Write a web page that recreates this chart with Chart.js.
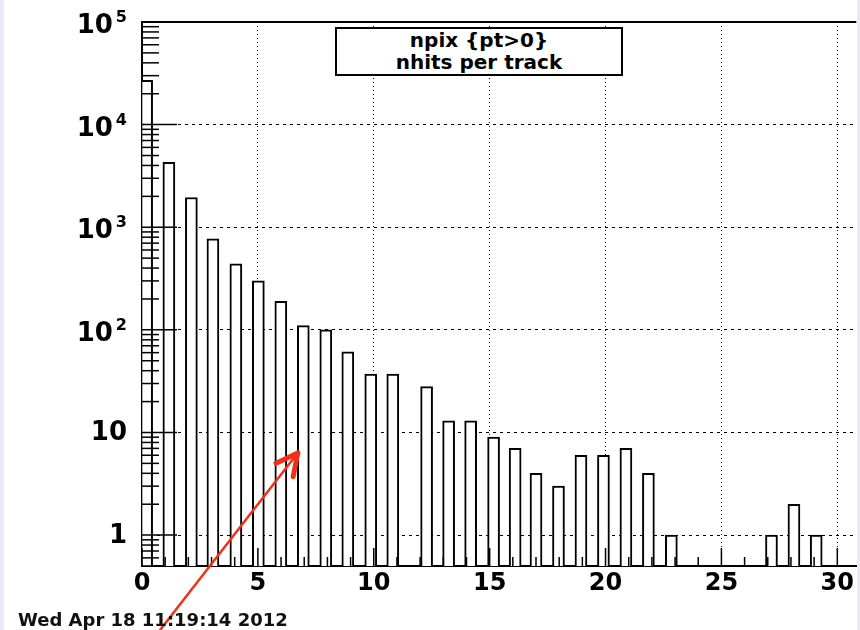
<!DOCTYPE html>
<html>
<head>
<meta charset="utf-8">
<script src="https://cdn.jsdelivr.net/npm/chart.js@4.4.1/dist/chart.umd.min.js"></script>
<style>
  html, body { margin: 0; padding: 0; }
  body { width: 860px; height: 630px; background: #ede7fb; position: relative; overflow: hidden; }
  #sheet { position: absolute; left: 4px; top: 0; width: 853px; height: 630px; background: #fff; }
  #wrap { position: absolute; left: 0; top: 0; width: 853px; height: 630px; }
  #statbox {
    position: absolute; left: 331px; top: 27px; width: 288px; height: 49px;
    box-sizing: border-box; border: 2px solid #000; background: #fff;
    font-family: "DejaVu Sans", sans-serif; font-weight: bold; font-size: 20px;
    line-height: 22px; text-align: center; padding-top: 0px; color: #000;
  }
  #stamp {
    position: absolute; left: 14px; top: 609px;
    font-family: "DejaVu Sans", sans-serif; font-weight: bold; font-size: 18px; color: #111;
  }
</style>
</head>
<body>
<div id="sheet">
  <div id="wrap"><canvas id="npix-chart"></canvas></div>
  <div id="statbox">npix {pt&gt;0}<br>nhits per track</div>
  <div id="stamp">Wed Apr 18 11:19:14 2012</div>
</div>
<script>
// bar positions (x units) and counts
const binX = [0.2, 1.16, 2.13, 3.06, 4.05, 5.02, 5.99, 6.96, 7.93, 8.88, 9.87, 10.82,
              12.28, 13.23, 14.18, 15.17, 16.1, 17.0, 17.97, 18.94, 19.91, 20.88, 21.85, 22.84,
              27.16, 28.13, 29.09];
const counts = [27000, 4300, 1950, 770, 440, 300, 190, 110, 100, 61, 37, 37,
                28, 13, 13, 9, 7, 4, 3, 6, 6, 7, 4, 1,
                1, 2, 1];

const xTicks = [0,1,2,3,4,5,6,7,8,9,10,11,12,13,14,15,16,17,18,19,20,21,22,23,24,25,26,27,28,29,30];
const yDecades = [1, 10, 100, 1000, 10000, 100000];
const yLabels = [['1', ''], ['10', ''], ['10', '2'], ['10', '3'], ['10', '4'], ['10', '5']];

// red arrow drawn on the print: [x, y] in data units
const arrowTail = [0.78, 0.119];
const arrowTip = [6.72, 6.3];

const FONT = '"DejaVu Sans", sans-serif';

// ROOT style: ticks inside the frame, exponent labels, top frame line, arrow
const rootAxes = {
    id: 'rootAxes',
    afterDraw(chart) {
        const { ctx, chartArea: a, scales: { x, y } } = chart;
        ctx.save();
        ctx.strokeStyle = '#000';

        // top frame
        ctx.lineWidth = 2;
        ctx.beginPath();
        ctx.moveTo(a.left, a.top);
        ctx.lineTo(a.right, a.top);
        ctx.stroke();

        // x ticks pointing up
        ctx.lineWidth = 1.5;
        xTicks.forEach(v => {
            const px = x.getPixelForValue(v);
            const len = v % 5 === 0 ? 18 : 9;
            ctx.beginPath();
            ctx.moveTo(px, a.bottom);
            ctx.lineTo(px, a.bottom - len);
            ctx.stroke();
        });

        // log ticks pointing right
        for (let d = -1; d <= 4; d++) {
            for (let k = 1; k <= 9; k++) {
                const v = k * Math.pow(10, d);
                if (v < y.min || v > y.max) continue;
                const py = y.getPixelForValue(v);
                const len = k === 1 ? 35 : 17;
                ctx.beginPath();
                ctx.moveTo(a.left, py);
                ctx.lineTo(a.left + len, py);
                ctx.stroke();
            }
        }

        // y labels with exponents
        ctx.fillStyle = '#000';
        ctx.textAlign = 'right';
        ctx.textBaseline = 'alphabetic';
        const right = a.left - 15;
        yDecades.forEach((v, i) => {
            const py = y.getPixelForValue(v);
            const [base, exp] = yLabels[i];
            if (exp) {
                ctx.font = 'bold 16px ' + FONT;
                ctx.fillText(exp, right, py);
                const ew = ctx.measureText(exp).width;
                ctx.font = 'bold 26px ' + FONT;
                ctx.fillText(base, right - ew - 3, py + 11);
            } else {
                ctx.font = 'bold 26px ' + FONT;
                ctx.fillText(base, right, py + 8);
            }
        });

        // arrow
        const x0 = x.getPixelForValue(arrowTail[0]), y0 = y.getPixelForValue(arrowTail[1]);
        const x1 = x.getPixelForValue(arrowTip[0]), y1 = y.getPixelForValue(arrowTip[1]);
        ctx.strokeStyle = '#f03018';
        ctx.lineCap = 'round';
        ctx.lineWidth = 2.5;
        ctx.beginPath();
        ctx.moveTo(x0, y0);
        ctx.lineTo(x1, y1);
        ctx.stroke();
        const ang = Math.atan2(y0 - y1, x0 - x1);
        ctx.lineWidth = 5;
        [-0.47, 0.47].forEach(da => {
            ctx.beginPath();
            ctx.moveTo(x1, y1);
            ctx.lineTo(x1 + 24 * Math.cos(ang + da), y1 + 24 * Math.sin(ang + da));
            ctx.stroke();
        });
        ctx.restore();
    }
};

new Chart(document.getElementById('npix-chart'), {
    type: 'bar',
    data: {
        datasets: [{
            data: binX.map((v, i) => ({ x: v, y: counts[i] })),
            backgroundColor: '#fff',
            borderColor: '#000',
            borderWidth: 2,
            barThickness: 12,
            borderSkipped: 'start',
            clip: 0
        }]
    },
    options: {
        animation: false,
        responsive: true,
        maintainAspectRatio: false,
        layout: { padding: { top: 22, right: 0, bottom: 0, left: 0 } },
        plugins: { legend: { display: false }, tooltip: { enabled: false } },
        scales: {
            x: {
                type: 'linear',
                offset: false,
                min: 0,
                max: 30.82,
                z: 1,
                afterBuildTicks: s => { s.ticks = xTicks.map(v => ({ value: v })); },
                afterFit: s => { s.height = 64; },
                ticks: {
                    autoSkip: false,
                    maxRotation: 0,
                    padding: 3,
                    color: '#000',
                    font: { family: FONT, weight: 'bold', size: 24 },
                    callback: v => (v % 5 === 0 ? String(v) : '')
                },
                grid: {
                    offset: false,
                    drawTicks: false,
                    lineWidth: 1,
                    color: c => (c.tick && c.tick.value % 5 === 0 ? '#000' : 'rgba(0,0,0,0)')
                },
                border: { display: true, color: '#000', width: 2, dash: [1, 3] }
            },
            y: {
                type: 'logarithmic',
                min: 0.5,
                max: 100000,
                z: 1,
                afterBuildTicks: s => { s.ticks = yDecades.map(v => ({ value: v })); },
                afterFit: s => { s.width = 138; },
                ticks: { display: false },
                grid: { drawTicks: false, lineWidth: 1, color: '#000' },
                border: { display: true, color: '#000', width: 2, dash: [3, 4] }
            }
        }
    },
    plugins: [rootAxes]
});
</script>
</body>
</html>
